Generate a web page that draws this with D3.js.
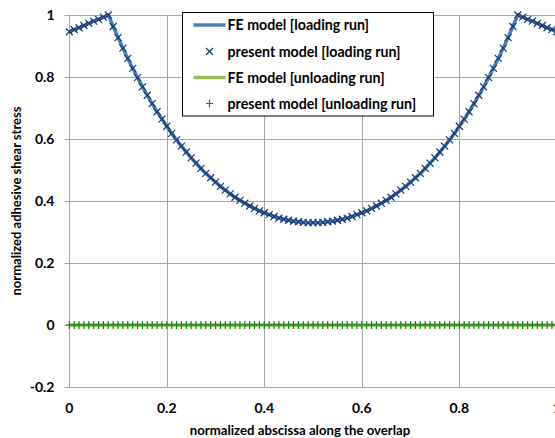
<!DOCTYPE html>
<html>
<head>
<meta charset="utf-8">
<title>Normalized adhesive shear stress</title>
<script src="https://cdn.jsdelivr.net/npm/d3@7"></script>
<style>
  body { margin: 0; background: #fff; }
  svg { display: block; overflow: hidden; }
  text { font-family: Lato, "Open Sans", sans-serif; font-weight: bold; fill: #000; }
</style>
</head>
<body>
<div id="chart"></div>
<script>
// abscissa along the overlap (normalized)
var xValues = [
  0.00, 0.01, 0.02, 0.03, 0.04, 0.05, 0.06, 0.07, 0.08, 0.09,
  0.10, 0.11, 0.12, 0.13, 0.14, 0.15, 0.16, 0.17, 0.18, 0.19,
  0.20, 0.21, 0.22, 0.23, 0.24, 0.25, 0.26, 0.27, 0.28, 0.29,
  0.30, 0.31, 0.32, 0.33, 0.34, 0.35, 0.36, 0.37, 0.38, 0.39,
  0.40, 0.41, 0.42, 0.43, 0.44, 0.45, 0.46, 0.47, 0.48, 0.49,
  0.50, 0.51, 0.52, 0.53, 0.54, 0.55, 0.56, 0.57, 0.58, 0.59,
  0.60, 0.61, 0.62, 0.63, 0.64, 0.65, 0.66, 0.67, 0.68, 0.69,
  0.70, 0.71, 0.72, 0.73, 0.74, 0.75, 0.76, 0.77, 0.78, 0.79,
  0.80, 0.81, 0.82, 0.83, 0.84, 0.85, 0.86, 0.87, 0.88, 0.89,
  0.90, 0.91, 0.92, 0.93, 0.94, 0.95, 0.96, 0.97, 0.98, 0.99,
  1.00
];

// FE model, loading run
var feLoading = [
  0.946, 0.953, 0.959, 0.966, 0.973, 0.980, 0.986, 0.993, 1.000, 0.963,
  0.927, 0.893, 0.860, 0.828, 0.798, 0.768, 0.741, 0.714, 0.688, 0.664,
  0.641, 0.618, 0.597, 0.577, 0.558, 0.539, 0.522, 0.505, 0.489, 0.475,
  0.461, 0.447, 0.435, 0.423, 0.412, 0.402, 0.393, 0.384, 0.376, 0.368,
  0.362, 0.356, 0.350, 0.345, 0.341, 0.338, 0.335, 0.333, 0.331, 0.330,
  0.330, 0.330, 0.331, 0.333, 0.335, 0.338, 0.341, 0.345, 0.350, 0.356,
  0.362, 0.368, 0.376, 0.384, 0.393, 0.402, 0.412, 0.423, 0.435, 0.447,
  0.461, 0.475, 0.489, 0.505, 0.522, 0.539, 0.558, 0.577, 0.597, 0.618,
  0.641, 0.664, 0.688, 0.714, 0.741, 0.768, 0.798, 0.828, 0.860, 0.893,
  0.927, 0.963, 1.000, 0.993, 0.986, 0.980, 0.973, 0.966, 0.959, 0.953,
  0.946
];

// present model, loading run
var presentLoading = [
  0.946, 0.953, 0.959, 0.966, 0.973, 0.980, 0.986, 0.993, 1.000, 0.963,
  0.927, 0.893, 0.860, 0.828, 0.798, 0.768, 0.741, 0.714, 0.688, 0.664,
  0.641, 0.618, 0.597, 0.577, 0.558, 0.539, 0.522, 0.505, 0.489, 0.475,
  0.461, 0.447, 0.435, 0.423, 0.412, 0.402, 0.393, 0.384, 0.376, 0.368,
  0.362, 0.356, 0.350, 0.345, 0.341, 0.338, 0.335, 0.333, 0.331, 0.330,
  0.330, 0.330, 0.331, 0.333, 0.335, 0.338, 0.341, 0.345, 0.350, 0.356,
  0.362, 0.368, 0.376, 0.384, 0.393, 0.402, 0.412, 0.423, 0.435, 0.447,
  0.461, 0.475, 0.489, 0.505, 0.522, 0.539, 0.558, 0.577, 0.597, 0.618,
  0.641, 0.664, 0.688, 0.714, 0.741, 0.768, 0.798, 0.828, 0.860, 0.893,
  0.927, 0.963, 1.000, 0.993, 0.986, 0.980, 0.973, 0.966, 0.959, 0.953,
  0.946
];

// unloading run: stress drops to zero everywhere
var feUnloading = [
  0, 0, 0, 0, 0, 0, 0, 0, 0, 0, 0, 0, 0, 0, 0, 0, 0, 0, 0, 0,
  0, 0, 0, 0, 0, 0, 0, 0, 0, 0, 0, 0, 0, 0, 0, 0, 0, 0, 0, 0,
  0, 0, 0, 0, 0, 0, 0, 0, 0, 0, 0, 0, 0, 0, 0, 0, 0, 0, 0, 0,
  0, 0, 0, 0, 0, 0, 0, 0, 0, 0, 0, 0, 0, 0, 0, 0, 0, 0, 0, 0,
  0, 0, 0, 0, 0, 0, 0, 0, 0, 0, 0, 0, 0, 0, 0, 0, 0, 0, 0, 0,
  0
];
var presentUnloading = [
  0, 0, 0, 0, 0, 0, 0, 0, 0, 0, 0, 0, 0, 0, 0, 0, 0, 0, 0, 0,
  0, 0, 0, 0, 0, 0, 0, 0, 0, 0, 0, 0, 0, 0, 0, 0, 0, 0, 0, 0,
  0, 0, 0, 0, 0, 0, 0, 0, 0, 0, 0, 0, 0, 0, 0, 0, 0, 0, 0, 0,
  0, 0, 0, 0, 0, 0, 0, 0, 0, 0, 0, 0, 0, 0, 0, 0, 0, 0, 0, 0,
  0, 0, 0, 0, 0, 0, 0, 0, 0, 0, 0, 0, 0, 0, 0, 0, 0, 0, 0, 0,
  0
];

var xTicks = [0, 0.2, 0.4, 0.6, 0.8, 1];
var yTicks = [-0.2, 0, 0.2, 0.4, 0.6, 0.8, 1];
var legendLabels = [
  "FE model [loading run]",
  "present model [loading run]",
  "FE model [unloading run]",
  "present model [unloading run]"
];

// dimensions (the plot runs a little past the right edge, as in the original)
var width = 555, height = 438;
var margin = { left: 69.3, top: 15, bottom: 51 };
var plotRight = 556.8;

var svg = d3.select("#chart").append("svg")
  .attr("width", width)
  .attr("height", height);

var x = d3.scaleLinear().domain([0, 1]).range([margin.left, plotRight]);
var y = d3.scaleLinear().domain([-0.2, 1]).range([height - margin.bottom, margin.top]);

var gridColor = "#a6a6a6";
var fmt = function(d) { return String(+d.toFixed(1)); };

// gridlines
svg.append("g").selectAll("line")
  .data(yTicks)
  .enter().append("line")
  .attr("x1", margin.left).attr("x2", plotRight)
  .attr("y1", function(d) { return Math.round(y(d)) + 0.5; })
  .attr("y2", function(d) { return Math.round(y(d)) + 0.5; })
  .attr("stroke", gridColor)
  .attr("stroke-width", 1);

svg.append("g").selectAll("line")
  .data(xTicks)
  .enter().append("line")
  .attr("x1", function(d) { return Math.round(x(d)) + 0.5; })
  .attr("x2", function(d) { return Math.round(x(d)) + 0.5; })
  .attr("y1", y(1)).attr("y2", y(-0.2))
  .attr("stroke", gridColor)
  .attr("stroke-width", 1);

// y axis with small outside ticks
var yAxis = svg.append("g")
  .attr("transform", "translate(" + (Math.round(margin.left) + 0.5) + ",0)")
  .call(d3.axisLeft(y).tickValues(yTicks).tickSize(5).tickPadding(10).tickFormat(fmt));
yAxis.select(".domain").attr("stroke", gridColor).attr("d", "M0," + y(-0.2) + "V" + y(1));
yAxis.selectAll(".tick line").attr("stroke", gridColor);
yAxis.selectAll("text").style("font-size", "14px").attr("font-family", null);

// x axis labels
svg.append("g").selectAll("text")
  .data(xTicks)
  .enter().append("text")
  .attr("x", function(d) { return x(d); })
  .attr("y", 413)
  .attr("text-anchor", "middle")
  .style("font-size", "14px")
  .text(fmt);

// axis titles
svg.append("text")
  .attr("x", 300)
  .attr("y", 435)
  .attr("text-anchor", "middle")
  .style("font-size", "13.2px")
  .text("normalized abscissa along the overlap");

svg.append("text")
  .attr("transform", "translate(21," + y(0.4) + ") rotate(-90)")
  .attr("text-anchor", "middle")
  .style("font-size", "13px")
  .text("normalized adhesive shear stress");

var line = d3.line()
  .x(function(d, i) { return x(xValues[i]); })
  .y(function(d) { return y(d); });

// FE lines
svg.append("path")
  .datum(feLoading)
  .attr("d", line)
  .attr("fill", "none")
  .attr("stroke", "#4a7ebb")
  .attr("stroke-width", 3.5);

svg.append("path")
  .datum(feUnloading)
  .attr("d", line)
  .attr("fill", "none")
  .attr("stroke", "#9bbb59")
  .attr("stroke-width", 3.5);

var crossPath = "M-3.5,-3.5L3.5,3.5M-3.5,3.5L3.5,-3.5";
var plusPath = "M-3.5,0L3.5,0M0,-4L0,4";

// present model markers
svg.append("g").selectAll("path")
  .data(presentLoading)
  .enter().append("path")
  .attr("transform", function(d, i) { return "translate(" + x(xValues[i]) + "," + y(d) + ")"; })
  .attr("d", crossPath)
  .attr("stroke", "#1a3870")
  .attr("stroke-width", 1.2)
  .attr("fill", "none");

svg.append("g").selectAll("path")
  .data(presentUnloading)
  .enter().append("path")
  .attr("transform", function(d, i) { return "translate(" + x(xValues[i]) + "," + y(d) + ")"; })
  .attr("d", plusPath)
  .attr("stroke", "#0a8a0a")
  .attr("stroke-width", 1.2)
  .attr("fill", "none");

// legend
var legend = svg.append("g").attr("transform", "translate(182.5,12.5)");
legend.append("rect")
  .attr("width", 251)
  .attr("height", 103.5)
  .attr("fill", "#fff")
  .attr("stroke", "#000")
  .attr("stroke-width", 1);

var rowY = [12.5, 39, 65, 91];
legendLabels.forEach(function(label, i) {
  var g = legend.append("g").attr("transform", "translate(0," + rowY[i] + ")");
  if (i === 0 || i === 2) {
    g.append("line")
      .attr("x1", 11).attr("x2", 43)
      .attr("stroke", i === 0 ? "#4a7ebb" : "#9bbb59")
      .attr("stroke-width", 3.5);
  } else {
    g.append("path")
      .attr("transform", "translate(27,0)")
      .attr("d", i === 1 ? crossPath : plusPath)
      .attr("stroke", i === 1 ? "#1a3870" : "#0a8a0a")
      .attr("stroke-width", 1.2)
      .attr("fill", "none");
  }
  g.append("text")
    .attr("x", 45)
    .attr("y", 5)
    .style("font-size", "14.2px")
    .text(label);
});
</script>
</body>
</html>
